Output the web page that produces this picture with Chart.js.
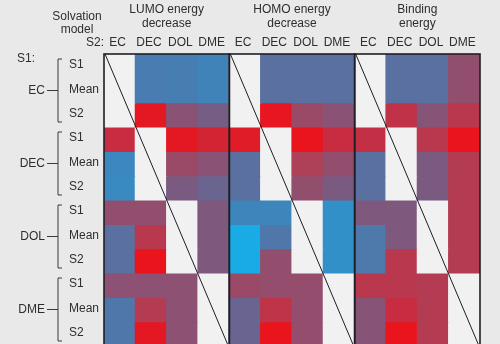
<!DOCTYPE html>
<html>
<head>
<meta charset="utf-8">
<script src="https://cdn.jsdelivr.net/npm/chart.js@4/dist/chart.umd.min.js"></script>
<style>
  html, body { margin: 0; padding: 0; background: #e9e9e9; overflow: hidden; }
  #wrap { width: 500px; height: 350px; }
</style>
</head>
<body>
<div id="wrap"><canvas id="c" width="500" height="350"></canvas></div>
<script>
// Solvents compared; each appears as a column (S2) and as a block of rows (S1)
const solvents = ['EC', 'DEC', 'DOL', 'DME'];
const rowKinds = ['S1', 'Mean', 'S2'];
const panelTitles = [['LUMO energy', 'decrease'], ['HOMO energy', 'decrease'], ['Binding', 'energy']];

// Scores from -1 (blue) through 0 (mauve) to +1 (red); null = same solvent pair
// rows: EC S1/Mean/S2, DEC S1/Mean/S2, DOL S1/Mean/S2, DME S1/Mean/S2; cols: EC, DEC, DOL, DME
const lumoDecrease = [
  [null, -0.64, -0.66, -0.72],
  [null, -0.64, -0.66, -0.72],
  [null,  0.95,  0.10, -0.15],
  [0.70,  null,  0.95,  0.80],
  [-0.76, null,  0.30,  0.10],
  [-0.78, null, -0.10, -0.30],
  [0.20,  0.20,  null, -0.05],
  [-0.50, 0.55,  null, -0.05],
  [-0.50, 1.00,  null, -0.05],
  [0.12,  0.12,  0.12,  null],
  [-0.58, 0.50,  0.12,  null],
  [-0.58, 0.95,  0.12,  null]
];
const homoDecrease = [
  [null, -0.50, -0.50, -0.50],
  [null, -0.50, -0.50, -0.50],
  [null,  0.97,  0.30,  0.10],
  [0.90,  null,  1.00,  0.70],
  [-0.50, null,  0.45,  0.20],
  [-0.50, null,  0.20, -0.10],
  [-0.75, -0.75, null, -0.82],
  [-1.00, -0.58, null, -0.82],
  [-1.00, 0.20,  null, -0.82],
  [0.30,  0.22,  0.22,  null],
  [-0.30, 0.60,  0.22,  null],
  [-0.30, 1.00,  0.22,  null]
];
const bindingEnergy = [
  [null, -0.50, -0.50,  0.20],
  [null, -0.50, -0.50,  0.20],
  [null,  0.62,  0.05,  0.55],
  [0.65,  null,  0.55,  1.00],
  [-0.50, null, -0.10,  0.50],
  [-0.50, null, -0.10,  0.50],
  [-0.05, -0.05, null,  0.50],
  [-0.60, -0.05, null,  0.50],
  [-0.60, 0.55,  null,  0.50],
  [0.55,  0.55,  0.50,  null],
  [0.05,  0.70,  0.50,  null],
  [0.05,  1.00,  0.50,  null]
];
const panels = [lumoDecrease, homoDecrease, bindingEnergy];

// Diverging colour scale
const colorStops = [
  [-1.00, [25, 171, 230]],
  [-0.75, [60, 134, 188]],
  [-0.50, [90, 112, 160]],
  [-0.30, [106, 101, 144]],
  [-0.10, [122, 90, 128]],
  [0.10,  [138, 82, 116]],
  [0.30,  [154, 74, 102]],
  [0.50,  [180, 60, 82]],
  [0.70,  [200, 44, 64]],
  [1.00,  [234, 20, 28]]
];
const emptyColor = '#f1f1f1';
function scoreColor(v) {
  if (v === null) return emptyColor;
  v = Math.max(-1, Math.min(1, v));
  for (let i = 0; i < colorStops.length - 1; i++) {
    const [a, ca] = colorStops[i], [b, cb] = colorStops[i + 1];
    if (v >= a && v <= b) {
      const t = (v - a) / (b - a);
      const c = ca.map((x, k) => Math.round(x + (cb[k] - x) * t));
      return `rgb(${c[0]},${c[1]},${c[2]})`;
    }
  }
  return emptyColor;
}

// 12 columns (3 panels x 4 solvents), 12 rows (4 solvents x 3 kinds)
const columnLabels = [];
panels.forEach(() => solvents.forEach(s => columnLabels.push(s)));
const nRows = solvents.length * rowKinds.length;

const datasets = [];
for (let r = 0; r < nRows; r++) {
  const colors = [];
  panels.forEach(p => p[r].forEach(v => colors.push(scoreColor(v))));
  datasets.push({
    data: columnLabels.map(() => [r, r + 1]),
    backgroundColor: colors,
    borderWidth: 0,
    inflateAmount: 0.6,
    barPercentage: 1,
    categoryPercentage: 1,
    grouped: false
  });
}

const FONT = '"Liberation Sans", Arial, sans-serif';
const INK = '#2e2e2e';

const decorations = {
  id: 'decorations',
  afterDatasetsDraw(chart) {
    const ctx = chart.ctx;
    const xs = chart.scales.x, ys = chart.scales.y;
    const colW = (xs.right - xs.left) / columnLabels.length;
    const top = ys.getPixelForValue(0), bottom = ys.getPixelForValue(nRows);
    ctx.save();
    ctx.strokeStyle = '#1e1e26';
    // panel frames and diagonals
    for (let p = 0; p < panels.length; p++) {
      const l = xs.left + p * solvents.length * colW;
      const r = l + solvents.length * colW;
      ctx.lineWidth = 1;
      ctx.beginPath();
      ctx.moveTo(l + 1, top);
      ctx.lineTo(r - 1, bottom);
      ctx.stroke();
      ctx.lineWidth = 1.6;
      ctx.strokeRect(l, top, r - l, bottom - top);
    }
    // header text
    ctx.fillStyle = INK;
    ctx.font = '12px ' + FONT;
    ctx.textAlign = 'center';
    ctx.textBaseline = 'middle';
    for (let p = 0; p < panels.length; p++) {
      const cx = xs.left + (p + 0.5) * solvents.length * colW;
      ctx.fillText(panelTitles[p][0], cx, 10);
      ctx.fillText(panelTitles[p][1], cx, 24);
    }
    ctx.fillText('Solvation', 77, 17);
    ctx.fillText('model', 77, 30);
    columnLabels.forEach((lab, i) => {
      ctx.fillText(lab, xs.getPixelForValue(i) - 2, 43);
    });
    ctx.textAlign = 'right';
    ctx.fillText('S2:', 104, 43);
    ctx.textAlign = 'left';
    ctx.fillText('S1:', 17, 59);
    // row labels and group brackets
    for (let g = 0; g < solvents.length; g++) {
      for (let k = 0; k < rowKinds.length; k++) {
        const r = g * rowKinds.length + k;
        ctx.textAlign = 'left';
        ctx.fillText(rowKinds[k], 69, ys.getPixelForValue(r + 0.5) - 1);
      }
      const gTop = ys.getPixelForValue(g * rowKinds.length) + 5;
      const gBot = ys.getPixelForValue((g + 1) * rowKinds.length) - 5;
      const gMid = (gTop + gBot) / 2;
      ctx.textAlign = 'right';
      ctx.fillText(solvents[g], 45, gMid);
      ctx.strokeStyle = '#3a3a3a';
      ctx.lineWidth = 1;
      ctx.beginPath();
      ctx.moveTo(62, gTop); ctx.lineTo(58, gTop); ctx.lineTo(58, gBot); ctx.lineTo(62, gBot);
      ctx.moveTo(47, gMid); ctx.lineTo(58, gMid);
      ctx.stroke();
    }
    ctx.restore();
  }
};

new Chart(document.getElementById('c'), {
  type: 'bar',
  data: { labels: columnLabels, datasets },
  options: {
    responsive: false,
    animation: false,
    layout: { padding: { left: 104, right: 20, top: 54, bottom: 4 } },
    plugins: { legend: { display: false }, tooltip: { enabled: false } },
    scales: {
      x: { display: false },
      y: { display: false, min: 0, max: nRows, reverse: true }
    }
  },
  plugins: [decorations]
});
</script>
</body>
</html>
